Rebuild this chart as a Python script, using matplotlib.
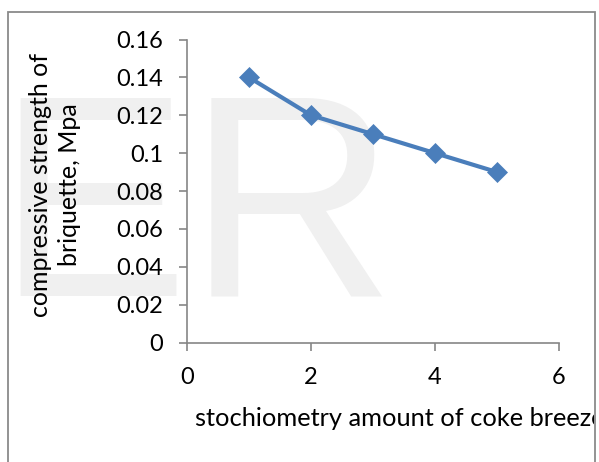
import matplotlib
matplotlib.use("Agg")
import matplotlib.pyplot as plt
from matplotlib.patches import Rectangle
from matplotlib.transforms import Bbox, TransformedBbox

# Data
amount = [1, 2, 3, 4, 5]
strength = [0.14, 0.12, 0.11, 0.10, 0.09]
x_ticks = [0, 2, 4, 6]
y_ticks = [0, 0.02, 0.04, 0.06, 0.08, 0.1, 0.12, 0.14, 0.16]
y_tick_labels = ["0", "0.02", "0.04", "0.06", "0.08", "0.1", "0.12", "0.14", "0.16"]
x_label = "stochiometry amount of coke breeze"
y_label = "compressive strength of\nbriquette, Mpa"

W, H = 599, 462
plt.rcParams["font.family"] = ["Lato", "DejaVu Sans"]

fig = plt.figure(figsize=(W / 100, H / 100), dpi=100)
fig.patch.set_facecolor("white")

def fx(px):
    return px / W

def fy(py):
    return 1 - py / H

# Light background lettering
fig.text(fx(-4), fy(295), "ER", fontsize=207, color="#f0f0f0",
         family="Liberation Sans", ha="left", va="baseline", zorder=-1)

# Outer frame (bottom edge lies below the visible area)
frame = Rectangle((fx(8), fy(475)), fx(595) - fx(8), fy(11.5) - fy(475),
                  transform=fig.transFigure, fill=False, edgecolor="#8a8a8a",
                  linewidth=1.3, zorder=5)
fig.patches.append(frame)

ax = fig.add_axes([fx(187), fy(342.5), fx(559) - fx(187), fy(39.5) - fy(342.5)])
ax.patch.set_alpha(0)

axis_color = "#868686"
ax.plot(amount, strength, color="#4a7ebb", linewidth=3.0, marker="D",
        markersize=10, markerfacecolor="#4a7ebb", markeredgecolor="#4a7ebb",
        markeredgewidth=0.5, solid_joinstyle="round", clip_on=False, zorder=3)

ax.set_xlim(0, 6)
ax.set_ylim(0, 0.16)
ax.set_xticks(x_ticks)
ax.set_xticklabels([str(v) for v in x_ticks])
ax.set_yticks(y_ticks)
ax.set_yticklabels(y_tick_labels)

for side in ("top", "right"):
    ax.spines[side].set_visible(False)
for side in ("left", "bottom"):
    ax.spines[side].set_color(axis_color)
    ax.spines[side].set_linewidth(1.2)

ax.tick_params(axis="both", direction="out", length=6, width=1.2,
               color=axis_color, labelsize=17, labelcolor="black")
ax.tick_params(axis="x", pad=12)
ax.tick_params(axis="y", pad=11)

fig.text(fx(55), fy(185), y_label, rotation=90, ha="center", va="center",
         multialignment="center", fontsize=18, linespacing=1.3, color="black")

xl = fig.text(fx(195), fy(426), x_label, ha="left", va="baseline",
              fontsize=18.3, color="black")
xl.set_clip_box(TransformedBbox(Bbox([[fx(8), 0], [fx(594), 1]]), fig.transFigure))
xl.set_clip_on(True)

fig.savefig("out.png", dpi=100)
